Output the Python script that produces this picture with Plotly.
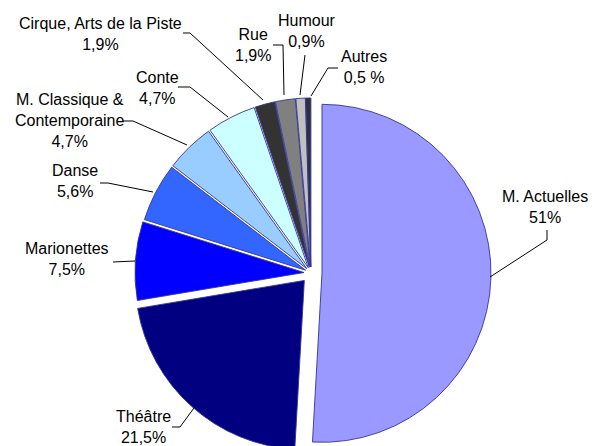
import math
import plotly.graph_objects as go

W, H = 606, 446
OFF = 8  # page body margin: figure is drawn 8px right/down of the window corner

# ---- data ----
categories = ["M. Actuelles", "Théâtre", "Marionettes", "Danse",
              "M. Classique &<br>Contemporaine", "Conte",
              "Cirque, Arts de la Piste", "Rue", "Humour", "Autres"]
values = [51, 21.5, 7.5, 5.6, 4.7, 4.7, 1.9, 1.9, 0.9, 0.5]
pct_labels = ["51%", "21,5%", "7,5%", "5,6%", "4,7%", "4,7%",
              "1,9%", "1,9%", "0,9%", "0,5 %"]

# ---- styles / layout (window pixel coordinates) ----
colors = ["#9999FF", "#000080", "#0000FF", "#3366FF", "#99CCFF",
          "#CCFFFF", "#333333", "#808080", "#C0C0C0", "#303038"]
explode_px = [11, 10, 7, 6, 6, 6, 6, 6, 6, 6]
center = (311, 273)
radius = 169

label_pos = [(545, 206.5), (143, 427), (67, 259), (75, 181), (70, 121),
             (157.5, 87.5), (100, 34), (253, 44.7), (306.5, 30.8), (364, 67)]
leaders = [
    [(547, 230), (547, 240), (490, 277)],
    [(172, 427), (180, 427), (194, 408)],
    [(113, 262), (135, 261)],
    [(100, 183), (108, 183), (153, 192)],
    [(123, 121), (133, 121), (187, 145)],
    [(178, 87), (190, 87), (228, 117)],
    [(183, 33), (190, 33), (263, 100)],
    [(273, 45), (283, 45), (284, 95)],
    [(305, 55), (300, 95)],
    [(338, 68), (328, 68), (311, 96)],
]

FONT = "Liberation Sans, Arial, sans-serif"


def px(x, y):
    return (x - OFF) / W, 1 - (y - OFF) / H


fig = go.Figure()
total = sum(values)
cum = 0.0
n = len(values)
for i, v in enumerate(values):
    a0 = cum / total * 360
    a1 = (cum + v) / total * 360
    cum += v
    mid = math.radians((a0 + a1) / 2)
    cx = center[0] + explode_px[i] * math.sin(mid) - OFF
    cy = center[1] - explode_px[i] * math.cos(mid) - OFF
    r = min(radius, cx, W - cx, cy, H - cy)
    slice_colors = [colors[j] if j == i else "rgba(0,0,0,0)" for j in range(n)]
    widths = [0.9 if j == i else 0 for j in range(n)]
    fig.add_trace(go.Pie(
        labels=categories, values=values, sort=False,
        direction="clockwise", rotation=0,
        marker=dict(colors=slice_colors,
                    line=dict(color="#333399", width=widths)),
        textinfo="none", hoverinfo="label+percent", showlegend=False,
        domain=dict(x=[(cx - r) / W, (cx + r) / W],
                    y=[1 - (cy + r) / H, 1 - (cy - r) / H]),
    ))

annotations = []
shapes = []
for i, cat in enumerate(categories):
    x, y = px(*label_pos[i])
    annotations.append(dict(
        x=x, y=y, xref="paper", yref="paper",
        text=f"{cat}<br>{pct_labels[i]}", showarrow=False,
        xanchor="center", yanchor="middle", align="center",
        font=dict(family=FONT, size=16, color="#000000"),
    ))
    pts = [px(a, b) for a, b in leaders[i]]
    path = "M " + " L ".join(f"{a:.5f},{b:.5f}" for a, b in pts)
    shapes.append(dict(type="path", path=path, xref="paper", yref="paper",
                       line=dict(color="#000000", width=1)))

fig.update_layout(
    width=W, height=H,
    margin=dict(l=0, r=0, t=0, b=0),
    paper_bgcolor="white", plot_bgcolor="white",
    annotations=annotations, shapes=shapes,
    font=dict(family=FONT),
)

fig.write_html("out.html")
